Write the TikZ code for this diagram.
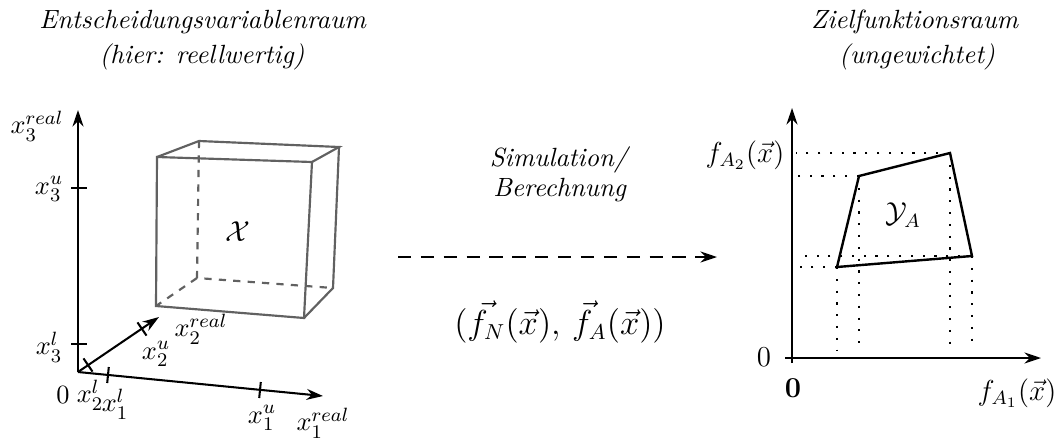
\documentclass[tikz,border=0pt]{standalone}
\usepackage{amsmath}
\usetikzlibrary{arrows.meta}

\begin{document}
\begin{tikzpicture}[x=0.0146cm,y=-0.0146cm,line width=0.85pt,>={Stealth[length=2.4mm,width=1.6mm]},
    font=\fontsize{10.95}{13.6}\selectfont,
    wuerfel/.style={black!62,line width=0.9pt},
    hilfslinie/.style={loosely dotted,line width=0.9pt}]
  \useasboundingbox (0,0) rectangle (1059,440);
  % ueberschriften
  \node (titel1) at (203,22) {\textit{Entscheidungsvariablenraum}};
  \node (titel1b) at (202,57) {\textit{(hier: reellwertig)}};
  \node (titel2) at (915,22) {\textit{Zielfunktionsraum}};
  \node (titel2b) at (917,57) {\textit{(ungewichtet)}};
  % achsen links
  \coordinate (O) at (78,372);
  \coordinate (x1e) at (323,396);
  \coordinate (x2e) at (159,317);
  \coordinate (x3e) at (78,110);
  \draw[->] (O) -- (x3e);
  \draw[->] (O) -- (x1e);
  \draw[->] (O) -- (x2e);
  % striche auf den achsen
  \coordinate (x3u) at (78,188); \coordinate (x3l) at (78,344);
  \coordinate (x1l) at (108,375); \coordinate (x1u) at (260,390);
  \coordinate (x2l) at (88,365); \coordinate (x2u) at (142,329);
  \foreach \p in {x3u,x3l} \draw ([shift={(-7,0)}]\p) -- ([shift={(9,0)}]\p);
  \foreach \p in {x1l,x1u} \draw ([shift={(0.8,-8)}]\p) -- ([shift={(-0.8,8)}]\p);
  \foreach \p in {x2l,x2u} \draw ([shift={(-4.5,-6.6)}]\p) -- ([shift={(4.5,6.6)}]\p);
  \node (lx3r) at (37,126) {$x_3^{real}$};
  \node (lx3u) at (49,189) {$x_3^u$};
  \node (lx3l) at (49,347) {$x_3^l$};
  \node (lnull) at (63,395) {$0$};
  \node (lx2l) at (90,395) {$x_2^l$};
  \node (lx1l) at (115,404) {$x_1^l$};
  \node (lx1u) at (262,418) {$x_1^u$};
  \node (lx1r) at (323,423) {$x_1^{real}$};
  \node (lx2u) at (156,354) {$x_2^u$};
  \node (lx2r) at (201,329) {$x_2^{real}$};
  % wuerfel
  \coordinate (v1) at (157,157); \coordinate (v2) at (312,162);
  \coordinate (v3) at (304,318); \coordinate (v4) at (156,306);
  \coordinate (h1) at (199,141); \coordinate (h2) at (339,147);
  \coordinate (h3) at (333,288); \coordinate (h4) at (197,278);
  \draw[wuerfel] (v1) -- (v2) -- (v3) -- (v4) -- cycle;
  \draw[wuerfel] (v1) -- (h1) -- (h2) -- (v2);
  \draw[wuerfel] (h2) -- (h3) -- (v3);
  \draw[wuerfel,dashed] (h1) -- (h4) -- (h3);
  \draw[wuerfel,dashed] (h4) -- (v4);
  \node (X) at (238,232) {\large $\mathcal{X}$};
  % abbildung
  \node (sim) at (560,160) {\textit{Simulation/}};
  \node (ber) at (560,190) {\textit{Berechnung}};
  \coordinate (pa) at (398,257);
  \coordinate (pe) at (717,257);
  \draw[->,dash pattern=on 5.5pt off 4pt,line width=1pt] (pa) -- (pe);
  \node (fvec) at (560,322) {\fontsize{13.5}{16}\selectfont $(\vec{f_N}(\vec{x}),\,\vec{f}_A(\vec{x}))$};
  % zielfunktionsraum
  \coordinate (N) at (792,358);
  \coordinate (ya) at (792,363); \coordinate (ye) at (792,108);
  \coordinate (xa) at (785,358); \coordinate (xe) at (1041,358);
  \draw[->] (xa) -- (xe);
  \draw[->] (ya) -- (ye);
  \node (lfa2) at (745,155) {\large $f_{A_2}(\vec{x})$};
  \node (lfa1) at (1017,393) {\large $f_{A_1}(\vec{x})$};
  \node (lnull2) at (764,357) {\large $0$};
  \node (lnull3) at (793,388) {\large $\mathbf{0}$};
  \coordinate (p1) at (859,176); \coordinate (p2) at (950,153);
  \coordinate (p3) at (972,256); \coordinate (p4) at (837,267);
  \foreach \p/\s in {p1/798,p2/796,p3/796,p4/800}
    \draw[hilfslinie] (\p) -- (\s,0 |- \p);
  \foreach \p in {p1,p2,p3,p4}
    \draw[hilfslinie] (\p) -- (\p |- 0,350);
  \draw[line width=1pt] (p1) -- (p2) -- (p3) -- (p4) -- cycle;
  \node (Y) at (903,215) {\large $\mathcal{Y}_A$};
\end{tikzpicture}
\end{document}
